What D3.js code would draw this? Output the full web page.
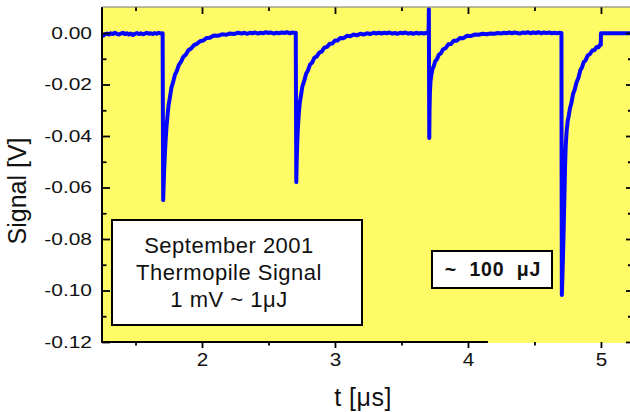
<!DOCTYPE html>
<html>
<head>
<meta charset="utf-8">
<script src="https://cdn.jsdelivr.net/npm/d3@7"></script>
<style>
  body { margin: 0; background: #fff; }
  text { font-family: Arial, "Liberation Sans", sans-serif; fill: #111; }
</style>
</head>
<body>
<div id="chart"></div>
<script>
// tick values
const xTicks = [2, 3, 4, 5];
const xMinor = [1.5, 2.5, 3.5, 4.5];
const yTicks = [-0.12, -0.10, -0.08, -0.06, -0.04, -0.02, 0.00];
const yMinor = [-0.11, -0.09, -0.07, -0.05, -0.03, -0.01];

// thermopile trace, [t (us), signal (V)], one array per pulse period
const trace1 = [[1.250,-0.0007],[1.258,-0.0010],[1.270,-0.0005],[1.285,-0.0002],[1.300,-0.0006],[1.315,-0.0001],[1.330,-0.0004],[1.345,0.0001],[1.360,-0.0003],[1.375,-0.0006],[1.390,-0.0002],[1.405,0.0001],[1.420,-0.0004],[1.435,-0.0001],[1.450,-0.0006],[1.465,-0.0002],[1.480,-0.0008],[1.495,-0.0003],[1.510,0.0000],[1.525,-0.0004],[1.540,-0.0001],[1.555,-0.0005],[1.570,-0.0002],[1.585,0.0001],[1.600,-0.0003],[1.615,-0.0001],[1.630,-0.0004],[1.645,0.0000],[1.660,-0.0003],[1.675,0.0001],[1.690,-0.0002],[1.704,-0.0001],
  [1.706,-0.0350],[1.708,-0.0649],[1.711,-0.0600],[1.715,-0.0540],[1.720,-0.0480],[1.726,-0.0420],[1.733,-0.0365],[1.740,-0.0325],[1.748,-0.0282],[1.758,-0.0252],[1.770,-0.0212],[1.782,-0.0192],[1.796,-0.0163],[1.810,-0.0148],[1.826,-0.0124],[1.842,-0.0112],[1.860,-0.0092],[1.878,-0.0084],[1.897,-0.0067],[1.918,-0.0060],[1.940,-0.0047],[1.962,-0.0042],[1.985,-0.0032],[2.010,-0.0029],[2.035,-0.0019],[2.060,-0.0018],[2.090,-0.0010],[2.120,-0.0011],[2.150,-0.0005],[2.180,-0.0007],[2.210,-0.0002],[2.240,-0.0004],[2.270,0.0001],[2.300,-0.0002],[2.320,0.0001],[2.340,-0.0003],[2.360,0.0001],[2.380,-0.0001],[2.400,0.0002],[2.420,-0.0002],[2.440,0.0001],[2.460,-0.0001],[2.480,0.0003],[2.500,0.0000],[2.520,0.0002],[2.540,-0.0002],[2.560,0.0001],[2.580,-0.0001],[2.600,0.0002],[2.620,0.0000],[2.640,0.0003],[2.660,-0.0001],[2.680,0.0002],[2.700,0.0000],[2.705,0.0001]];
const trace2 = [[2.707,-0.0300],[2.709,-0.0579],[2.712,-0.0500],[2.716,-0.0430],[2.721,-0.0370],[2.727,-0.0320],[2.735,-0.0272],[2.744,-0.0243],[2.755,-0.0207],[2.768,-0.0187],[2.782,-0.0159],[2.797,-0.0145],[2.812,-0.0123],[2.828,-0.0115],[2.845,-0.0096],[2.863,-0.0091],[2.882,-0.0076],[2.900,-0.0072],[2.920,-0.0057],[2.940,-0.0054],[2.960,-0.0042],[2.980,-0.0041],[3.000,-0.0029],[3.020,-0.0029],[3.040,-0.0019],[3.065,-0.0020],[3.090,-0.0011],[3.115,-0.0013],[3.140,-0.0006],[3.165,-0.0009],[3.190,-0.0003],[3.215,-0.0006],[3.240,-0.0001],[3.265,-0.0004],[3.290,0.0001],[3.310,-0.0002],[3.330,0.0001],[3.350,-0.0002],[3.370,0.0001],[3.390,-0.0001],[3.410,0.0002],[3.430,-0.0002],[3.450,0.0000],[3.470,-0.0003],[3.490,0.0001],[3.510,-0.0001],[3.530,0.0002],[3.550,-0.0002],[3.570,0.0000],[3.590,-0.0003],[3.610,0.0001],[3.630,-0.0002],[3.650,0.0000],[3.670,-0.0002],[3.690,0.0001],[3.703,-0.0001]];
const trace3 = [[3.705,0.0040],[3.706,0.0092],[3.707,-0.0100],[3.709,-0.0408],[3.711,-0.0300],[3.714,-0.0230],[3.718,-0.0190],[3.724,-0.0165],[3.732,-0.0142],[3.742,-0.0130],[3.754,-0.0109],[3.766,-0.0103],[3.780,-0.0085],[3.796,-0.0079],[3.813,-0.0063],[3.832,-0.0059],[3.852,-0.0044],[3.872,-0.0043],[3.893,-0.0030],[3.915,-0.0030],[3.940,-0.0019],[3.965,-0.0020],[3.990,-0.0011],[4.020,-0.0012],[4.050,-0.0006],[4.080,-0.0007],[4.110,-0.0003],[4.140,-0.0005],[4.170,-0.0002],[4.200,-0.0003],[4.225,0.0000],[4.250,-0.0002],[4.270,0.0001],[4.290,-0.0001],[4.310,0.0002],[4.330,-0.0001],[4.350,0.0002],[4.370,0.0000],[4.390,-0.0002],[4.410,0.0002],[4.430,0.0000],[4.450,0.0003],[4.470,-0.0001],[4.490,0.0002],[4.510,0.0000],[4.530,0.0003],[4.550,-0.0001],[4.570,0.0002],[4.590,0.0000],[4.610,0.0002],[4.630,-0.0001],[4.650,0.0001],[4.670,-0.0001],[4.690,0.0001],[4.702,0.0000]];
const trace4 = [[4.703,-0.0001],[4.704,-0.0500],[4.706,-0.1017],[4.710,-0.0950],[4.714,-0.0880],[4.718,-0.0800],[4.722,-0.0710],[4.726,-0.0620],[4.730,-0.0520],[4.735,-0.0440],[4.742,-0.0380],[4.750,-0.0342],[4.758,-0.0321],[4.767,-0.0292],[4.778,-0.0271],[4.790,-0.0237],[4.802,-0.0221],[4.816,-0.0192],[4.830,-0.0175],[4.845,-0.0145],[4.858,-0.0133],[4.870,-0.0113],[4.884,-0.0107],[4.900,-0.0087],[4.917,-0.0082],[4.935,-0.0068],[4.952,-0.0066],[4.968,-0.0054],[4.982,-0.0055],[4.995,-0.0044],[4.999,-0.0046],[5.000,-0.0001],[5.226,-0.0001]];

const infoLines = ["September 2001", "Thermopile Signal", "1 mV ~ 1\u03bcJ"];
const energyLabel = "~  100  \u03bcJ";

const w = 630, h = 412;
const plotLeft = 102, plotRight = 631, plotTop = 7, plotBottom = 342;

const xScale = d3.scaleLinear().domain([1.248, 5.226]).range([plotLeft, plotRight]);
const yScale = d3.scaleLinear().domain([-0.12, 0.0101]).range([plotBottom, plotTop]);

const svg = d3.select("#chart").append("svg")
  .attr("width", w)
  .attr("height", h);

svg.append("rect")
  .attr("x", plotLeft).attr("y", plotTop)
  .attr("width", plotRight - plotLeft).attr("height", plotBottom - plotTop + 1)
  .attr("fill", "#fffb66");

svg.append("clipPath").attr("id", "plotclip")
  .append("rect")
  .attr("x", plotLeft).attr("y", plotTop)
  .attr("width", plotRight - plotLeft).attr("height", plotBottom - plotTop);

const line = d3.line()
  .x(d => xScale(d[0]))
  .y(d => yScale(d[1]));

svg.append("path")
  .datum(trace1.concat(trace2, trace3, trace4))
  .attr("clip-path", "url(#plotclip)")
  .attr("d", line)
  .attr("fill", "none")
  .attr("stroke", "#0606ff")
  .attr("stroke-width", 4)
  .attr("stroke-linejoin", "round");

// axes
function styleAxis(g) {
  g.select(".domain").remove();
  g.selectAll(".tick line").attr("stroke", "#000").attr("stroke-width", 1.8);
  g.selectAll(".tick text").attr("fill", "#111");
}

const xAxis = svg.append("g")
  .attr("transform", "translate(0," + plotBottom + ")")
  .call(d3.axisBottom(xScale).tickValues(xTicks).tickSize(6).tickPadding(5).tickFormat(d3.format("d")))
  .call(styleAxis);
xAxis.selectAll(".tick text")
  .style("font-size", "18px")
  .attr("transform", "scale(1.15,1)");
svg.append("g")
  .attr("transform", "translate(0," + plotBottom + ")")
  .call(d3.axisBottom(xScale).tickValues(xMinor).tickSize(3.5).tickFormat(""))
  .call(styleAxis);

svg.append("g")
  .attr("transform", "translate(0," + plotTop + ")")
  .call(d3.axisTop(xScale).tickValues(xTicks).tickSize(-7).tickFormat(""))
  .call(styleAxis);
svg.append("g")
  .attr("transform", "translate(0," + plotTop + ")")
  .call(d3.axisTop(xScale).tickValues(xMinor).tickSize(-4).tickFormat(""))
  .call(styleAxis);

const yAxis = svg.append("g")
  .attr("transform", "translate(" + plotLeft + ",0)")
  .call(d3.axisLeft(yScale).tickValues(yTicks).tickSize(-8).tickPadding(10).tickFormat(d => d.toFixed(2)))
  .call(styleAxis);
yAxis.selectAll(".tick text")
  .style("font-size", "16.5px")
  .attr("x", -10 / 1.27)
  .attr("transform", "scale(1.27,1)");
svg.append("g")
  .attr("transform", "translate(" + plotLeft + ",0)")
  .call(d3.axisLeft(yScale).tickValues(yMinor).tickSize(-4.5).tickFormat(""))
  .call(styleAxis);

svg.append("g")
  .attr("transform", "translate(" + plotRight + ",0)")
  .call(d3.axisRight(yScale).tickValues(yTicks).tickSize(-5).tickFormat(""))
  .call(styleAxis);
svg.append("g")
  .attr("transform", "translate(" + plotRight + ",0)")
  .call(d3.axisRight(yScale).tickValues(yMinor).tickSize(-3).tickFormat(""))
  .call(styleAxis);

// frame
svg.append("line")
  .attr("x1", plotLeft).attr("x2", plotLeft).attr("y1", plotTop).attr("y2", plotBottom + 1)
  .attr("stroke", "#000").attr("stroke-width", 2);
svg.append("line")
  .attr("x1", plotLeft).attr("x2", xScale(4.15)).attr("y1", plotBottom).attr("y2", plotBottom)
  .attr("stroke", "#000").attr("stroke-width", 2);
svg.append("line")
  .attr("x1", plotLeft).attr("x2", plotRight).attr("y1", plotTop).attr("y2", plotTop)
  .attr("stroke", "#777").attr("stroke-width", 1);

// axis titles
svg.append("text")
  .attr("transform", "translate(26,191) rotate(-90)")
  .attr("text-anchor", "middle")
  .style("font-size", "25px")
  .text("Signal [V]");
svg.append("text")
  .attr("x", 363).attr("y", 406)
  .attr("text-anchor", "middle")
  .style("font-size", "25px")
  .style("letter-spacing", "0.5px")
  .text("t [\u03bcs]");

// info box
svg.append("rect")
  .attr("x", 112).attr("y", 220).attr("width", 250).attr("height", 105)
  .attr("fill", "#fff").attr("stroke", "#000").attr("stroke-width", 2);
svg.selectAll(".info")
  .data(infoLines)
  .enter()
  .append("text")
  .attr("class", "info")
  .attr("x", 229)
  .attr("y", (d, i) => 253 + i * 27)
  .attr("text-anchor", "middle")
  .style("font-size", "22px")
  .style("letter-spacing", "0.5px")
  .text(d => d);

// energy box
svg.append("rect")
  .attr("x", 432).attr("y", 251).attr("width", 120).attr("height", 37)
  .attr("fill", "#fff").attr("stroke", "#000").attr("stroke-width", 2);
svg.append("text")
  .attr("x", 493).attr("y", 276)
  .attr("text-anchor", "middle")
  .style("font-size", "19.5px")
  .style("font-weight", "bold")
  .style("letter-spacing", "0.8px")
  .style("white-space", "pre")
  .text(energyLabel);
</script>
</body>
</html>
